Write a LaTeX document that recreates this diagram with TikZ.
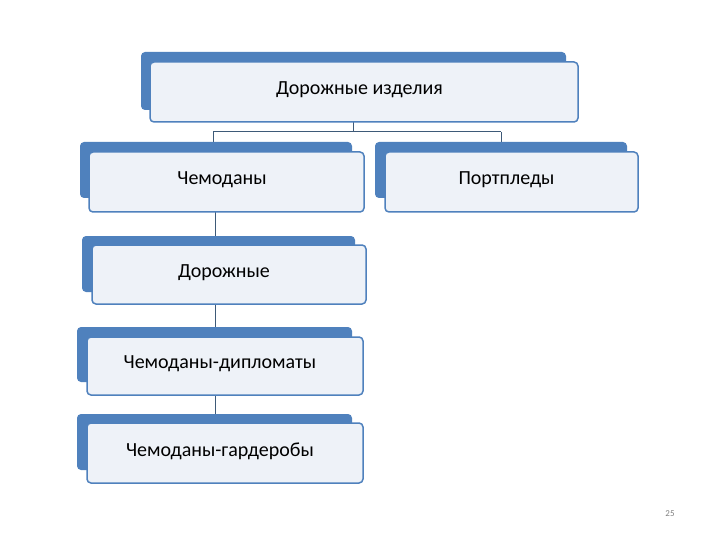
\documentclass[tikz,border=0pt]{standalone}
\usepackage{fontspec}
\setmainfont{Carlito}
\definecolor{bk}{HTML}{4F81BD}
\definecolor{fr}{HTML}{EEF2F8}
\definecolor{ln}{HTML}{3E5A78}
\begin{document}
\begin{tikzpicture}[x=1pt,y=-1pt,
  backbox/.style={fill=bk,rounded corners=4pt},
  frontbox/.style={draw=bk,line width=1.5pt,fill=fr,rounded corners=4pt},
  lbl/.style={font=\fontsize{20}{24}\selectfont,text=black},
  conn/.style={draw=ln,line width=1pt}]
\useasboundingbox (0,0) rectangle (720,540);
\fill[white] (0,0) rectangle (720,540);
% connectors
\coordinate (t) at (353,122);
\coordinate (m1) at (353,132);
\coordinate (ml) at (213,132);
\coordinate (mr) at (501,132);
\draw[conn] (t) -- (m1) (ml) -- (mr) (ml) -- (213,142) (mr) -- (501,142);
\draw[conn] (215,212) -- (215,236);
\draw[conn] (215,304) -- (215,327);
\draw[conn] (215,395) -- (215,414);
% boxes
\foreach \bx/\by/\bX/\bY/\fx/\fy/\fX/\fY/\nm/\txt in {
 141/52/566/110/150/62/578/122/a/Дорожные изделия,
 80/142/352/198/89/152/364/212/b/Чемоданы,
 375/142/627/198/385/152/638/212/c/Портпледы,
 82/236/355/292/92/245/366/304/d/Дорожные,
 77/327/352/382/87/337/363/395/e/Чемоданы-дипломаты,
 77/414/352/470/87/423/363/483/f/Чемоданы-гардеробы}{
 \fill[backbox] (\bx,\by) rectangle (\bX,\bY);
 \draw[frontbox] (\fx,\fy) rectangle (\fX,\fY);
 \node[lbl] (\nm) at ({(\bx+\fX)/2},{(\by+\fY)/2+3}) {\txt};
}
\node[font=\fontsize{9}{10}\selectfont,text=gray] (pg) at (670,514) {25};
\end{tikzpicture}
\end{document}
